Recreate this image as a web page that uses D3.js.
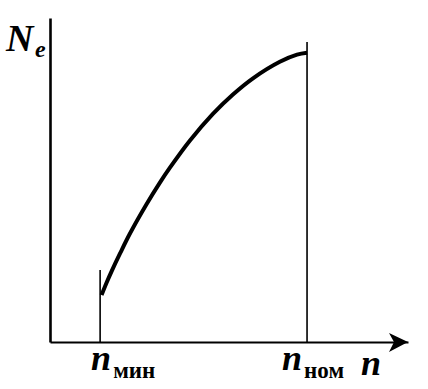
<!DOCTYPE html>
<html><head><meta charset="utf-8">
<script src="https://cdn.jsdelivr.net/npm/d3@7"></script>
<style>html,body{margin:0;padding:0;background:#fff;overflow:hidden}</style>
</head><body>
<svg id="c" width="428" height="389"></svg>
<script>
// data (arbitrary units)
const nValues  = [144, 158, 172, 196, 223, 270, 307, 335, 391, 455, 511, 567, 642, 690, 718];
const NeValues = [14.5, 18.3, 21.8, 27.4, 33.4, 42.6, 49.2, 53.8, 62.2, 70.4, 76.4, 81.4, 86.5, 88.7, 89.3];
const markerN   = [140, 718];
const markerTop = [22.2, 92.6];
const subLabels = ["мин", "ном"];

// label offsets (style)
const labelShift = [-9, -25];

const svg = d3.select("#c");
const x = d3.scaleLinear().domain([0, 1000]).range([50, 408]);
const y = d3.scaleLinear().domain([0, 100]).range([342, 18]);

// y axis
svg.append("g").attr("transform", `translate(${x(0)},0)`)
  .call(d3.axisLeft(y).ticks(0).tickSize(0).tickSizeOuter(0))
  .call(g => g.select(".domain").attr("stroke", "#000").attr("stroke-width", 2.6));
// x axis
svg.append("g").attr("transform", `translate(0,${y(0)})`)
  .call(d3.axisBottom(x).ticks(0).tickSize(0).tickSizeOuter(0))
  .call(g => g.select(".domain").attr("stroke", "#000").attr("stroke-width", 2));

// arrow head
const ax = x(1000), ay = y(0);
svg.append("path")
  .attr("d", `M${ax},${ay} L${ax-19},${ay-9} L${ax-14},${ay} L${ax-19},${ay+10} Z`)
  .attr("fill", "#000");

// vertical markers
svg.selectAll("line.mk").data(markerN).join("line").attr("class", "mk")
  .attr("x1", d => x(d)).attr("x2", d => x(d))
  .attr("y1", (d, i) => y(markerTop[i])).attr("y2", y(0))
  .attr("stroke", "#000").attr("stroke-width", 1.6);

// curve
const pts = nValues.map((n, i) => [n, NeValues[i]]);
svg.append("path").datum(pts)
  .attr("d", d3.line().x(d => x(d[0])).y(d => y(d[1])).curve(d3.curveCatmullRom.alpha(0.5)))
  .attr("fill", "none").attr("stroke", "#000").attr("stroke-width", 4).attr("stroke-linecap", "butt");

// labels
const serif = "'Liberation Serif','DejaVu Serif',serif";
svg.append("text").attr("x", 6).attr("y", 51)
  .attr("font-family", serif).attr("font-style", "italic").attr("font-weight", "bold")
  .attr("font-size", 38).text("N");
svg.append("text").attr("x", 35).attr("y", 57)
  .attr("font-family", serif).attr("font-style", "italic").attr("font-weight", "bold")
  .attr("font-size", 24).text("e");

markerN.forEach((n, i) => {
  const t = svg.append("text").attr("x", x(n) + labelShift[i]).attr("y", 370)
    .attr("font-family", serif).attr("font-weight", "bold");
  t.append("tspan").attr("font-style", "italic").attr("font-size", 36).text("n");
  t.append("tspan").attr("font-size", 23).attr("dx", 2).attr("dy", 8).text(subLabels[i]);
});
svg.append("text").attr("x", 361).attr("y", 375)
  .attr("font-family", serif).attr("font-weight", "bold").attr("font-style", "italic")
  .attr("font-size", 36).text("n");
</script>
</body></html>
